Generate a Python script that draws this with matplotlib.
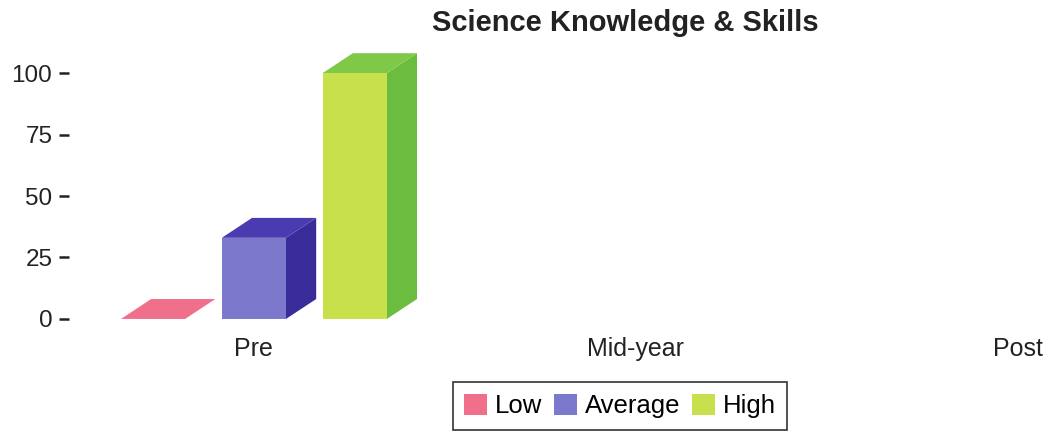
import numpy as np
import matplotlib.pyplot as plt
from matplotlib.patches import Patch

plt.rcParams['font.family'] = ['Liberation Sans', 'DejaVu Sans']

######################### data ################################################
categories = ['Pre', 'Mid-year', 'Post']
series = ['Low', 'Average', 'High']
low = [0, None, None]
average = [33, None, None]
high = [100, None, None]
yticks = [0, 25, 50, 75, 100]

# front, top, side colours for each series
colors = {
    'Low': ('#f0708c', '#f0708c', '#e05878'),
    'Average': ('#7c78cc', '#4a3cb0', '#3a2c98'),
    'High': ('#c8e04c', '#80c848', '#6cbc40'),
}

######################### drawing #############################################
fig = plt.figure(figsize=(10.47, 4.34), dpi=100)
ax = fig.add_axes([69/1047, 1 - 330/434, (1047 - 69)/1047, (330 - 35)/434])

width = 0.168
offset = 0.264
dx = 0.079   # depth in x (data units)
dy = 8.1     # depth in y (data units)

values = [low, average, high]
for k, (name, vals) in enumerate(zip(series, values)):
    front, top, side = colors[name]
    for i, v in enumerate(vals):
        if v is None:
            continue
        x0 = i + (k - 1) * offset - width / 2
        x1 = x0 + width
        # side face
        ax.fill([x1, x1 + dx, x1 + dx, x1], [0, dy, v + dy, v],
                color=side, lw=0)
        # top face
        ax.fill([x0, x1, x1 + dx, x0 + dx], [v, v, v + dy, v + dy],
                color=top, lw=0)
        # front face
        if v > 0:
            ax.fill([x0, x1, x1, x0], [0, 0, v, v], color=front, lw=0)

ax.set_xlim(-0.484, 2.076)
ax.set_ylim(-4.5, 115.5)
ax.set_xticks(range(len(categories)))
ax.set_xticklabels(categories, fontsize=18, color='#222222')
ax.set_yticks(yticks)
ax.set_yticklabels([str(t) for t in yticks], fontsize=17.5, color='#222222')
ax.tick_params(axis='x', length=0, pad=5)
ax.tick_params(axis='y', length=7, width=1.8, pad=5, color='#222222')
for s in ax.spines.values():
    s.set_visible(False)

fig.text(625/1047, 1 - 23/434, 'Science Knowledge & Skills', ha='center',
         va='center', fontsize=21, fontweight='bold', color='#222222')

handles = [Patch(facecolor=colors[n][0], edgecolor='none', label=n) for n in series]
leg = fig.legend(handles=handles, loc='upper center', ncol=3,
                 bbox_to_anchor=(620/1047, 1 - 382/434), fontsize=18.5,
                 frameon=True, fancybox=False, edgecolor='black',
                 handlelength=0.9, handleheight=0.9, handletextpad=0.3,
                 columnspacing=0.45, borderpad=0.45, borderaxespad=0)
leg.get_frame().set_linewidth(1.2)

fig.savefig('out.png', dpi=100)
